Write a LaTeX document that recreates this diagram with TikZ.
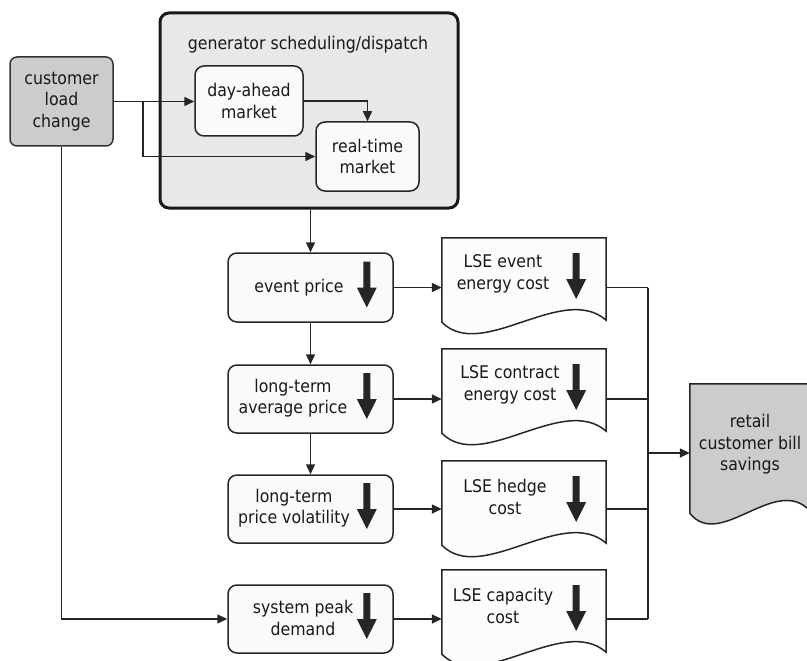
\documentclass[tikz,border=0pt]{standalone}
\usepackage{fontspec}
\setmainfont{DejaVu Sans Condensed}
\usetikzlibrary{arrows.meta,calc,backgrounds}

\begin{document}
\begin{tikzpicture}[x=1pt,y=-1pt,
  every node/.style={font=\fontsize{17.5}{21.5}\selectfont, align=center, inner sep=0pt, text=black!90},
  line/.style={draw=black!85, line width=1.5pt},
  flow/.style={line, -{Triangle[length=10pt,width=9pt]}},
  box/.style={draw=black!85, line width=1.5pt, rounded corners=9pt, fill=black!2},
  graybox/.style={draw=black!80, line width=1.5pt, rounded corners=7pt, fill=black!20},
  groupbox/.style={draw=black!90, line width=3pt, rounded corners=9pt, fill=black!9},
  docframe/.style={draw=none},
  docline/.style={draw=black!85, line width=1.5pt, fill=black!1},
  dnarrow/.pic={\fill[black!85] (-3.5,-23) -- (3.5,-23) -- (3.5,3) -- (10,3) -- (0,23) -- (-10,3) -- (-3.5,3) -- cycle;}
]
\useasboundingbox (0,0) rectangle (807,661);

% customer load change
\node[graybox, minimum width=103, minimum height=89] (cust) at (61.5,101.5) {customer\\load\\change};

% generator scheduling / dispatch group
\node[groupbox, minimum width=298, minimum height=195] (gen) at (309,110.5) {};
\node (gentitle) at (308,45) {generator scheduling/dispatch};
\node[box, minimum width=108, minimum height=70] (da) at (249,101) {day-ahead\\market};
\node[box, minimum width=103, minimum height=69] (rt) at (367.5,156.5) {real-time\\market};

% price boxes
\node[box, minimum width=165, minimum height=69] (event) at (310.5,287.5) {};
\node[box, minimum width=165, minimum height=68] (avg) at (310.5,399) {};
\node[box, minimum width=165, minimum height=68] (vol) at (310.5,509) {};
\node[box, minimum width=165, minimum height=68] (peak) at (310.5,619) {};
\node (eventtxt) at ($(event.center)+(-11.5,0)$) {event price};
\node (avgtxt) at ($(avg.center)+(-17.5,-1)$) {long-term\\average price};
\node (voltxt) at ($(vol.center)+(-16.5,-1)$) {long-term\\price volatility};
\node (peaktxt) at ($(peak.center)+(-7.5,-1)$) {system peak\\demand};
\foreach \b in {event,avg,vol,peak}
  \pic at ($(\b.east)+(-27,-3)$) {dnarrow};

% LSE cost documents
\node[docframe, minimum width=164, minimum height=84] (lse1) at (524,280) {};
\node[docframe, minimum width=164, minimum height=84] (lse2) at (524,391) {};
\node[docframe, minimum width=164, minimum height=84] (lse3) at (524,503) {};
\node[docframe, minimum width=164, minimum height=84] (lse4) at (524,612) {};
\node[docframe, minimum width=120, minimum height=129] (retail) at (750,448.5) {};
\begin{scope}[on background layer]
  \foreach \d in {lse1,lse2,lse3,lse4}
    \draw[docline] (\d.north west) -- (\d.south west)
      .. controls ($(\d.south west)+(40,40)$) and ($(\d.south east)+(-44,-40)$) .. ($(\d.south east)+(0,-2)$)
      -- (\d.north east) -- cycle;
  \draw[docline, fill=black!20] (retail.north west) -- (retail.south west)
      .. controls ($(retail.south west)+(30,38)$) and ($(retail.south east)+(-34,-40)$) .. ($(retail.south east)+(0,-2)$)
      -- (retail.north east) -- cycle;
\end{scope}
\node (lse1txt) at ($(lse1.center)+(-21,-6)$) {LSE event\\energy cost};
\node (lse2txt) at ($(lse2.center)+(-14,-6)$) {LSE contract\\energy cost};
\node (lse3txt) at ($(lse3.center)+(-19,-6)$) {LSE hedge\\cost};
\node (lse4txt) at ($(lse4.center)+(-21,-6)$) {LSE capacity\\cost};
\node (retailtxt) at ($(retail.center)+(0,-4)$) {retail\\customer bill\\savings};
\foreach \d in {lse1,lse2,lse3,lse4}
  \pic at ($(\d.east)+(-30,-4)$) {dnarrow};

% connectors
\coordinate (split) at (143,101.5);
\coordinate (bus) at (648,453);
\draw[flow] (cust.east |- split) -- (da.west |- split);
\draw[flow] (split) |- (rt.west);
\draw[flow] (da.east) -| (rt.north);
\draw[flow] (event.north |- gen.south) -- (event.north);
\draw[flow] (event.south) -- (avg.north);
\draw[flow] (avg.south) -- (vol.north);
\draw[flow] (cust.south) |- (peak.west);
\draw[flow] (event.east) -- (event.east -| lse1.west);
\draw[flow] (avg.east) -- (avg.east -| lse2.west);
\draw[flow] (vol.east) -- (vol.east -| lse3.west);
\draw[flow] (peak.east) -- (peak.east -| lse4.west);
\draw[line] (event.east -| lse1.east) -- (event.east -| bus);
\draw[line] (avg.east -| lse2.east) -- (avg.east -| bus);
\draw[line] (vol.east -| lse3.east) -- (vol.east -| bus);
\draw[line] (peak.east -| lse4.east) -- (peak.east -| bus);
\draw[line] (event.east -| bus) -- (peak.east -| bus);
\draw[flow] (bus) -- (bus -| retail.west);
\end{tikzpicture}
\end{document}
